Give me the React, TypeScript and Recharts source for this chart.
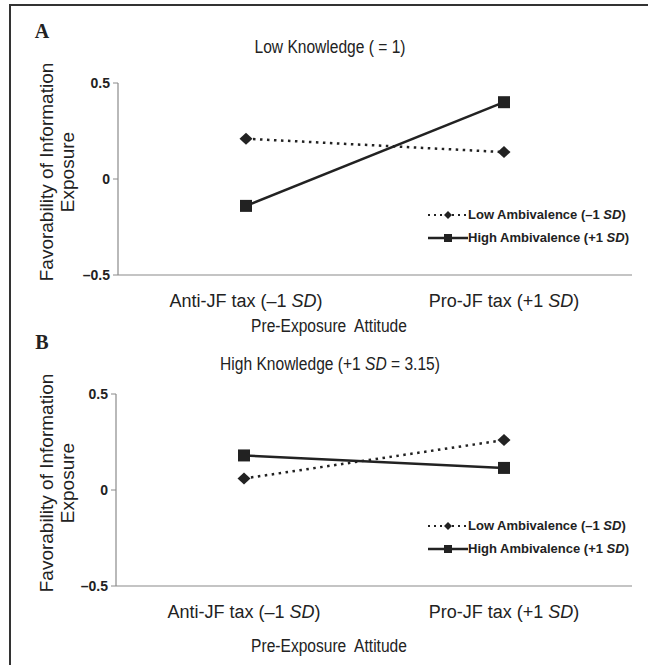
import React from "react";
import { LineChart, Line, XAxis, YAxis, Legend, Customized } from "recharts";

const attitudes = ["Anti-JF tax (–1 SD)", "Pro-JF tax (+1 SD)"];
const yTicks = [-0.5, 0, 0.5];
const seriesNames = ["Low Ambivalence (–1 SD)", "High Ambivalence (+1 SD)"];

// panel A - low knowledge
const lowKnowLowAmb = [0.21, 0.14];
const lowKnowHighAmb = [-0.14, 0.4];

// panel B - high knowledge
const highKnowLowAmb = [0.06, 0.26];
const highKnowHighAmb = [0.18, 0.115];

const sans = "'Liberation Sans', Arial, sans-serif";
const ink = "#222";
const axisGray = "#8a8a8a";

const italicSD = (text: string) => {
  const i = text.indexOf("SD");
  if (i < 0) return text;
  return (
    <>
      {text.slice(0, i)}
      <tspan fontStyle="italic">SD</tspan>
      {text.slice(i + 2)}
    </>
  );
};

const Diamond = (props: any) => {
  const { cx, cy, index } = props;
  if (cx == null || cy == null) return null;
  return (
    <polygon
      key={"d" + index}
      points={`${cx},${cy - 6} ${cx + 6.5},${cy} ${cx},${cy + 6} ${cx - 6.5},${cy}`}
      fill={ink}
    />
  );
};

const Square = (props: any) => {
  const { cx, cy, index } = props;
  if (cx == null || cy == null) return null;
  return <rect key={"s" + index} x={cx - 6} y={cy - 6} width={12} height={12} fill={ink} />;
};

const XTick = (props: any) => {
  const { x, y, payload } = props;
  return (
    <text x={x} y={y + 23.5} textAnchor="middle" fontFamily={sans} fontSize={18} fill={ink}>
      {italicSD(payload.value)}
    </text>
  );
};

const LegendBox = () => (
  <div style={{ fontFamily: sans, fontSize: 13, fontWeight: 700, color: ink }}>
    {seriesNames.map((name, i) => (
      <div key={name} style={{ display: "flex", alignItems: "center", height: 23 }}>
        <svg width={40} height={12}>
          <line
            x1={0}
            y1={6}
            x2={40}
            y2={6}
            stroke={ink}
            strokeWidth={i === 0 ? 2 : 2.5}
            strokeDasharray={i === 0 ? "2 4" : undefined}
          />
          {i === 0 ? (
            <polygon points="20,2 24,6 20,10 16,6" fill={ink} />
          ) : (
            <rect x={16} y={2} width={8} height={8} fill={ink} />
          )}
        </svg>
        <span>
          {name.replace(" SD)", " ")}
          <i>SD</i>)
        </span>
      </div>
    ))}
  </div>
);

// condensed look of the original titles
const NarrowText = ({ x, y, children }: { x: number; y: number; children: React.ReactNode }) => (
  <g transform={`translate(${x}, ${y}) scale(0.82, 1)`}>
    <text x={0} y={0} fontFamily={sans} fontSize={19} textAnchor="middle">
      {children}
    </text>
  </g>
);

type PanelProps = {
  letter: string;
  title: React.ReactNode;
  titleY: number;
  xTitleGap: number;
  low: number[];
  high: number[];
  top: number;
  height: number;
  axisLeft: number;
};

const Panel = ({ letter, title, titleY, xTitleGap, low, high, top, height, axisLeft }: PanelProps) => {
  const data = attitudes.map((a, i) => ({ attitude: a, low: low[i], high: high[i] }));
  const plotBottom = 275;
  const Texts = () => (
    <g fill={ink}>
      <text x={42} y={38} fontFamily="'Liberation Serif', 'Times New Roman', serif" fontWeight={700} fontSize={20} textAnchor="middle">
        {letter}
      </text>
      <NarrowText x={330} y={titleY}>
        {title}
      </NarrowText>
      <NarrowText x={329} y={plotBottom + xTitleGap}>
        Pre-Exposure{"\u00a0 "}Attitude
      </NarrowText>
      <g transform={`translate(0, 172) rotate(-90)`} fontFamily={sans}>
        <text x={0} y={53} fontSize={19} textAnchor="middle">
          Favorability of Information
        </text>
        <text x={0} y={74} fontSize={19} textAnchor="middle">
          Exposure
        </text>
      </g>
    </g>
  );
  return (
    <div style={{ position: "absolute", left: 0, top }}>
      <LineChart
        width={648}
        height={height}
        data={data}
        margin={{ top: 83, right: 16, bottom: 0, left: 0 }}
      >
        <Customized component={<Texts />} />
        <XAxis
          dataKey="attitude"
          interval={0}
          padding={{ left: 128, right: 128 }}
          axisLine={{ stroke: axisGray, strokeWidth: 1.2 }}
          tickLine={false}
          tick={<XTick />}
          height={height - plotBottom}
        />
        <YAxis
          width={axisLeft}
          domain={[-0.5, 0.5]}
          ticks={yTicks}
          axisLine={{ stroke: axisGray, strokeWidth: 1.2 }}
          tickLine={{ stroke: axisGray }}
          tickSize={5}
          tickMargin={3}
          tick={{ fontFamily: sans, fontSize: 14, fontWeight: 700, fill: ink }}
          tickFormatter={(v: number) => (v < 0 ? "–" + Math.abs(v) : String(v))}
        />
        <Legend
          layout="horizontal"
          verticalAlign="middle"
          align="center"
          content={<LegendBox />}
          wrapperStyle={{ left: 428, top: 203, width: 220 }}
        />
        <Line
          name={seriesNames[0]}
          dataKey="low"
          stroke={ink}
          strokeWidth={2.5}
          strokeDasharray="2.5 4.5"
          dot={<Diamond />}
          isAnimationActive={false}
        />
        <Line
          name={seriesNames[1]}
          dataKey="high"
          stroke={ink}
          strokeWidth={2.5}
          dot={<Square />}
          isAnimationActive={false}
        />
      </LineChart>
    </div>
  );
};

export default function App() {
  return (
    <div style={{ position: "absolute", left: 0, top: 0, width: 648, height: 665, background: "#fff", overflow: "hidden" }}>
      <div
        style={{
          position: "absolute",
          left: 9,
          top: 4,
          width: 660,
          height: 680,
          borderLeft: "2px solid #333",
          borderTop: "2px solid #333",
        }}
      />
      <Panel
        letter="A"
        title="Low Knowledge ( = 1)"
        titleY={53}
        xTitleGap={57}
        low={lowKnowLowAmb}
        high={lowKnowHighAmb}
        top={0}
        height={340}
        axisLeft={118}
      />
      <Panel
        letter="B"
        title={
          <>
            High Knowledge (+1 <tspan fontStyle="italic">SD</tspan> = 3.15)
          </>
        }
        titleY={59}
        xTitleGap={66}
        low={highKnowLowAmb}
        high={highKnowHighAmb}
        top={311}
        height={354}
        axisLeft={116}
      />
    </div>
  );
}
